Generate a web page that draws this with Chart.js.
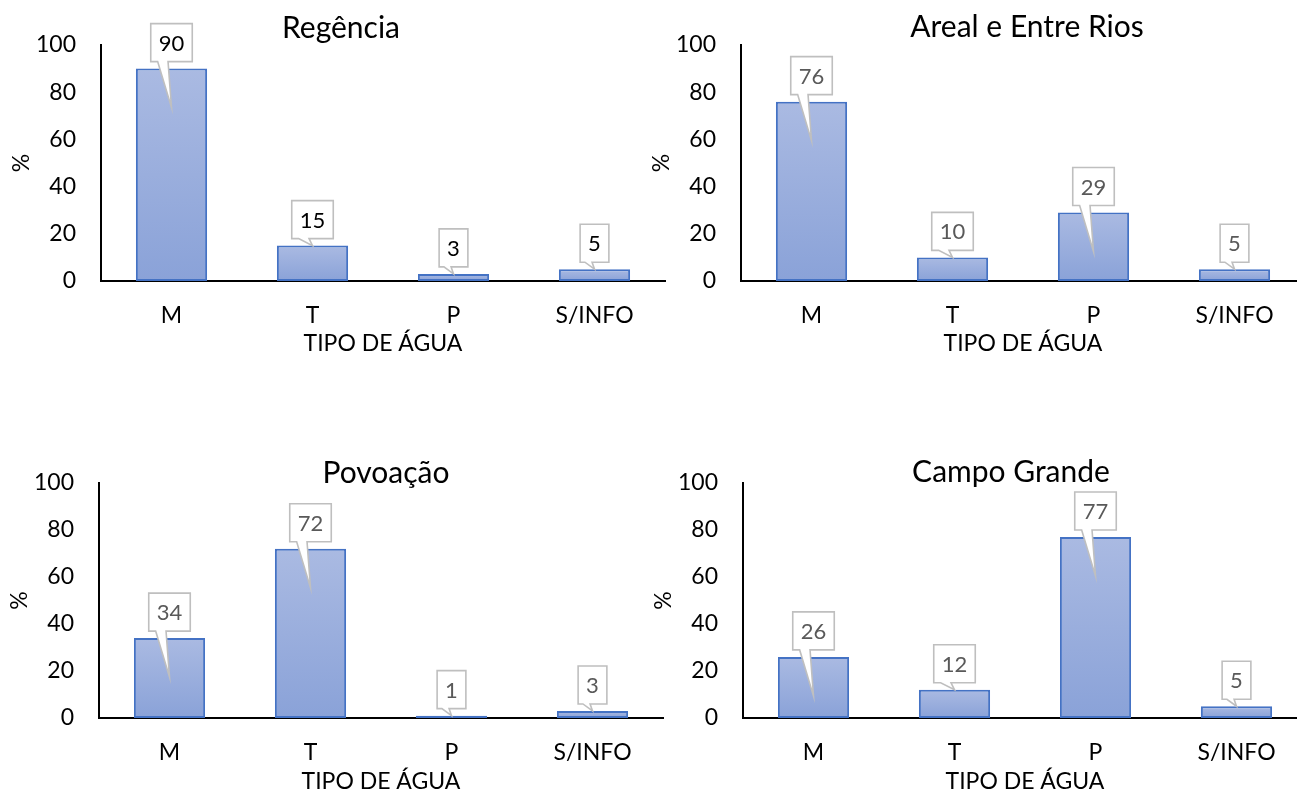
<!DOCTYPE html>
<html>
<head>
<meta charset="utf-8">
<script src="https://cdn.jsdelivr.net/npm/chart.js@4.4.1/dist/chart.umd.min.js"></script>
<style>
  html, body { margin: 0; padding: 0; background: #fff; width: 1297px; height: 793px; overflow: hidden; position: relative; }
  canvas { position: absolute; }
</style>
</head>
<body>
<canvas id="c1"></canvas>
<canvas id="c2"></canvas>
<canvas id="c3"></canvas>
<canvas id="c4"></canvas>
<script>
// Water type shares (%) per locality
const categories = ['M', 'T', 'P', 'S/INFO'];
const yTicks = [0, 20, 40, 60, 80, 100];
const titles = ['Regência', 'Areal e Entre Rios', 'Povoação', 'Campo Grande'];
const regencia = [90, 15, 3, 5];
const arealEntreRios = [76, 10, 29, 5];
const povoacao = [34, 72, 1, 3];
const campoGrande = [26, 12, 77, 5];
const xAxisTitle = 'TIPO DE ÁGUA';
const yAxisTitle = '%';

const FONT = "Lato, 'Open Sans', sans-serif";

// Panel placement on the page (canvas coordinates inside each panel)
const panels = [
  { id: 'c1', values: regencia,       title: titles[0], left: 0,   top: 0,   width: 683, height: 380, plotTop: 45, base: 281, titleX: 341, titleY: 28, axisTitleY: 344, labelColor: '#000000' },
  { id: 'c2', values: arealEntreRios, title: titles[1], left: 640, top: 0,   width: 670, height: 380, plotTop: 45, base: 281, titleX: 387, titleY: 27, axisTitleY: 344, labelColor: '#595959' },
  { id: 'c3', values: povoacao,       title: titles[2], left: -2,  top: 430, width: 685, height: 380, plotTop: 53, base: 288, titleX: 388, titleY: 43, axisTitleY: 352, labelColor: '#595959' },
  { id: 'c4', values: campoGrande,    title: titles[3], left: 642, top: 430, width: 670, height: 380, plotTop: 53, base: 288, titleX: 369, titleY: 42, axisTitleY: 352, labelColor: '#595959' }
];

const Y_AXIS_WIDTH = 101;
const PLOT_WIDTH = 564;
const TEXT_SIZE = 23;

// Chart title drawn at a fixed spot of the panel
const panelTitle = {
  id: 'panelTitle',
  afterDraw(chart, args, opts) {
    const ctx = chart.ctx;
    ctx.save();
    ctx.font = `${opts.size}px ${FONT}`;
    ctx.fillStyle = '#000';
    ctx.textAlign = 'center';
    ctx.textBaseline = 'middle';
    ctx.fillText(opts.text, opts.x, opts.y);
    ctx.restore();
  }
};

// Callout-style value labels above each bar
const callouts = {
  id: 'callouts',
  afterDatasetsDraw(chart, args, opts) {
    const ctx = chart.ctx;
    const meta = chart.getDatasetMeta(0);
    const data = chart.data.datasets[0].data;
    ctx.save();
    ctx.font = `${opts.size}px ${FONT}`;
    meta.data.forEach((bar, i) => {
      const text = String(data[i]);
      const w = ctx.measureText(text).width + opts.padX * 2;
      const h = opts.boxHeight;
      const x0 = bar.x - w / 2, x1 = bar.x + w / 2;
      const y1 = bar.y - opts.gap, y0 = y1 - h;
      const tipY = (bar.base - bar.y) > opts.deepMin ? y1 + opts.reach : bar.y;
      ctx.beginPath();
      ctx.moveTo(x0, y0);
      ctx.lineTo(x1, y0);
      ctx.lineTo(x1, y1);
      ctx.lineTo(x0 + w * 5 / 12, y1);
      ctx.lineTo(bar.x, tipY);
      ctx.lineTo(x0 + w / 6, y1);
      ctx.lineTo(x0, y1);
      ctx.closePath();
      ctx.fillStyle = '#ffffff';
      ctx.fill();
      ctx.lineWidth = 1.6;
      ctx.strokeStyle = '#bfbfbf';
      ctx.lineJoin = 'miter';
      ctx.stroke();
      ctx.fillStyle = opts.color;
      ctx.textAlign = 'center';
      ctx.textBaseline = 'middle';
      ctx.fillText(text, bar.x, (y0 + y1) / 2 + 1);
    });
    ctx.restore();
  }
};

function barFill(c) {
  const chart = c.chart;
  if (!chart.chartArea || c.type !== 'data') return '#9aaedd';
  const y = chart.scales.y;
  const top = y.getPixelForValue(c.parsed.y);
  const bottom = y.getPixelForValue(0);
  if (bottom - top < 2) return '#a3b4df';
  const g = chart.ctx.createLinearGradient(0, top, 0, bottom);
  g.addColorStop(0, '#aabae2');
  g.addColorStop(1, '#8aa2d8');
  return g;
}

panels.forEach(p => {
  const canvas = document.getElementById(p.id);
  canvas.width = p.width;
  canvas.height = p.height;
  canvas.style.left = p.left + 'px';
  canvas.style.top = p.top + 'px';
  canvas.style.width = p.width + 'px';
  canvas.style.height = p.height + 'px';

  const tickFont = { family: FONT, size: TEXT_SIZE };
  const titleLine = TEXT_SIZE * 1.2;

  new Chart(canvas, {
    type: 'bar',
    data: {
      labels: categories,
      datasets: [{
        data: p.values,
        backgroundColor: barFill,
        borderColor: '#4472c4',
        borderWidth: 2,
        borderSkipped: false,
        categoryPercentage: 1,
        barPercentage: 0.505
      }]
    },
    options: {
      responsive: false,
      animation: false,
      events: [],
      layout: {
        padding: { top: p.plotTop, left: 0, right: p.width - Y_AXIS_WIDTH - PLOT_WIDTH, bottom: 0 }
      },
      plugins: {
        legend: { display: false },
        tooltip: { enabled: false },
        title: { display: false },
        panelTitle: { text: p.title, x: p.titleX, y: p.titleY, size: 30 },
        callouts: { size: 22, padX: 8, boxHeight: 38, gap: 7, reach: 46, deepMin: 55, color: p.labelColor }
      },
      scales: {
        x: {
          grid: { display: false },
          border: { display: true, color: '#000000', width: 2 },
          ticks: { font: tickFont, color: '#000000', padding: 13, maxRotation: 0, autoSkip: false },
          title: {
            display: true, text: xAxisTitle, color: '#000000', font: tickFont,
            padding: { top: 0, bottom: p.height - p.axisTitleY - titleLine / 2 }
          },
          afterFit(scale) { scale.height = p.height - p.base; }
        },
        y: {
          min: 0,
          max: 100,
          grid: { display: false },
          border: { display: true, color: '#000000', width: 2 },
          afterBuildTicks(scale) { scale.ticks = yTicks.map(v => ({ value: v })); },
          ticks: { font: tickFont, color: '#000000', padding: 17 },
          title: {
            display: true, text: yAxisTitle, color: '#000000', font: tickFont,
            padding: { top: 8, bottom: 0 }
          },
          afterFit(scale) { scale.width = Y_AXIS_WIDTH; }
        }
      }
    },
    plugins: [panelTitle, callouts]
  });
});
</script>
</body>
</html>
